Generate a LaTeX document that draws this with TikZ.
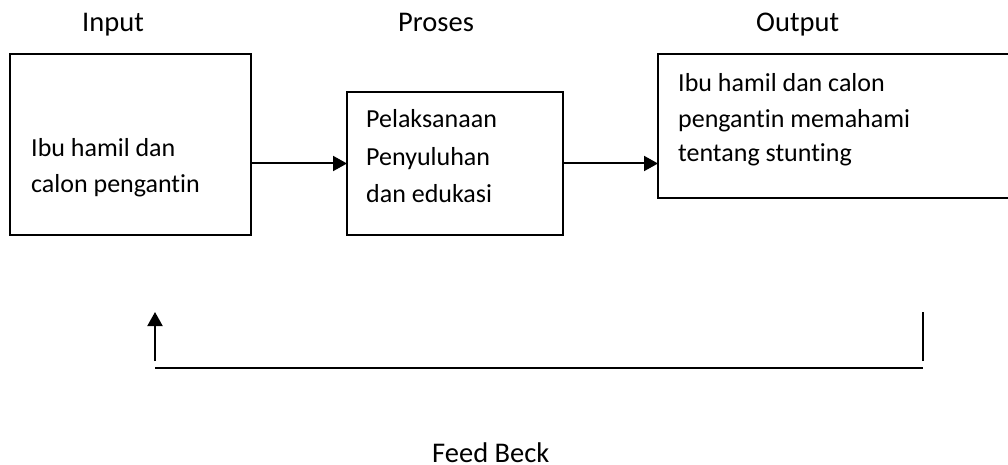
\documentclass[tikz,border=0pt]{standalone}
\usepackage{fontspec}
\setmainfont{Carlito}[Ligatures=NoCommon]
\usetikzlibrary{arrows.meta}
\begin{document}
\begin{tikzpicture}[x=1pt,y=-1pt,
  box/.style={draw, line width=2pt, anchor=north west, inner sep=0pt, outer sep=0pt},
  lbl/.style={anchor=base west, inner sep=0pt, font=\fontsize{26}{31}\selectfont},
  head/.style={anchor=base west, inner sep=0pt, font=\fontsize{28.5}{34}\selectfont},
  arr/.style={line width=2pt, -{Triangle[length=14pt,width=15pt]}},
  ln/.style={line width=2pt}]
\useasboundingbox (0,0) rectangle (1008,465);
\clip (0,0) rectangle (1008,465);
% headings
\node[head] (tin) at (82,32) {Input};
\node[head] (tpr) at (398,32) {Proses};
\node[head] (tout) at (756,32) {Output};
% boxes
\node[box, minimum width=241pt, minimum height=181pt] (b1) at (10,54) {};
\node[box, minimum width=216pt, minimum height=143pt] (b2) at (347,92) {};
\node[box, minimum width=360pt, minimum height=144pt] (b3) at (658,54) {};
% box texts
\node[lbl] (t11) at (31,156.5) {Ibu hamil dan};
\node[lbl] (t12) at (31,192) {calon pengantin};
\node[lbl] (t21) at (366,128) {Pelaksanaan};
\node[lbl] (t22) at (366,165) {Penyuluhan};
\node[lbl] (t23) at (366,202) {dan edukasi};
\node[lbl] (t31) at (678,92) {Ibu hamil dan calon};
\node[lbl] (t32) at (678,127.5) {pengantin memahami};
\node[lbl] (t33) at (678,162) {tentang stunting};
% connectors
\draw[arr] (b1.east |- b2.west) -- (b2.west);
\draw[arr] (b2.east) -- (b3.west |- b2.east);
% feedback
\coordinate (fa) at (155,361);
\coordinate (fb) at (155,312);
\coordinate (fl) at (155,368);
\coordinate (fr) at (923,368);
\coordinate (ra) at (923,361);
\coordinate (rb) at (923,312);
\draw[arr] (fa) -- (fb);
\draw[ln] (fl) -- (fr);
\draw[ln] (ra) -- (rb);
\node[head] (fbk) at (432,462.5) {Feed Beck};
\end{tikzpicture}
\end{document}
